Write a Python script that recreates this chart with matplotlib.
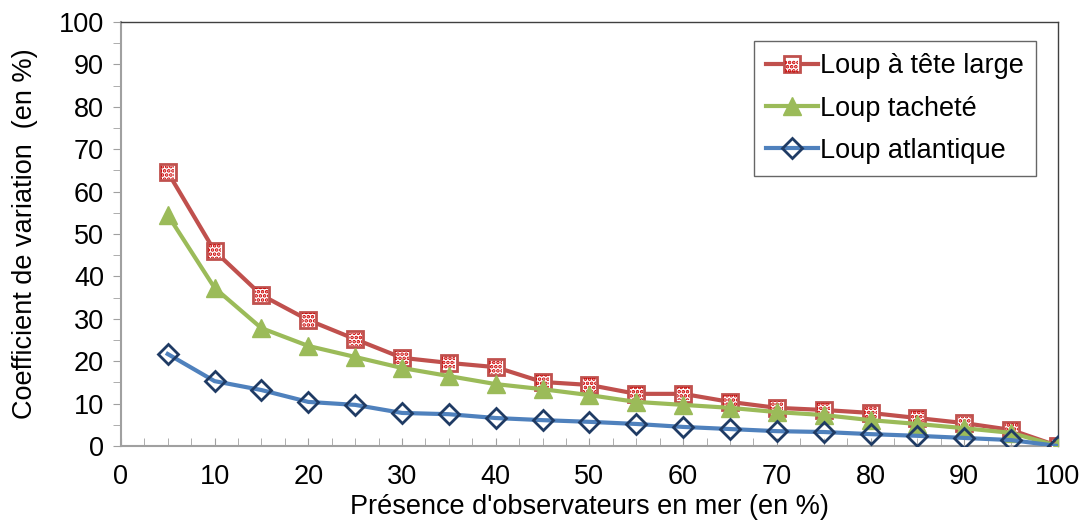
import matplotlib
matplotlib.use('Agg')
from matplotlib import pyplot as plt
from matplotlib.ticker import MultipleLocator
from matplotlib.legend_handler import HandlerTuple

plt.rcParams['font.family'] = ['Liberation Sans', 'DejaVu Sans']
plt.rcParams['hatch.linewidth'] = 1.8

# Data
presence = [5, 10, 15, 20, 25, 30, 35, 40, 45, 50, 55, 60, 65, 70, 75, 80, 85, 90, 95, 100]
tete_large = [64.6, 46.0, 35.6, 29.7, 25.2, 20.8, 19.6, 18.6, 15.1, 14.4,
              12.3, 12.3, 10.4, 9.0, 8.5, 7.8, 6.6, 5.4, 3.8, 0.0]
tachete = [54.5, 37.3, 27.8, 23.6, 21.0, 18.4, 16.5, 14.6, 13.4, 12.0,
           10.4, 9.7, 9.0, 8.0, 7.3, 6.1, 5.2, 4.2, 3.1, 0.0]
atlantique = [21.7, 15.3, 13.2, 10.4, 9.7, 7.8, 7.5, 6.6, 6.1, 5.7,
              5.2, 4.5, 4.0, 3.5, 3.3, 2.8, 2.4, 1.9, 1.4, 0.0]

red = '#c0504d'
green = '#9bbb59'
blue = '#4f81bd'

fig = plt.figure(figsize=(10.79, 5.2), dpi=100)
ax = fig.add_axes([0.112, 0.1423, 0.8685, 0.8154])

# Loup a tete large: square with dotted (hatched) face
l1, = ax.plot(presence, tete_large, c=red, lw=3, marker='s', ms=12,
              mfc='white', mec=red, mew=2, zorder=3)
s1 = ax.scatter(presence, tete_large, marker='s', s=90, facecolor='none',
                edgecolor='#cc0000', hatch='....', lw=0, zorder=4)

# Loup tachete
l2, = ax.plot(presence, tachete, c=green, lw=3, marker='^', ms=13,
              mfc=green, mec=green, zorder=5)

# Loup atlantique
l3, = ax.plot(presence, atlantique, c=blue, lw=3, marker='D', ms=10,
              mfc='none', mec='#1f3b64', mew=2, zorder=6)

ax.set_xlim(0, 100)
ax.set_ylim(0, 100)
ax.xaxis.set_major_locator(MultipleLocator(10))
ax.xaxis.set_minor_locator(MultipleLocator(2.5))
ax.yaxis.set_major_locator(MultipleLocator(10))
ax.yaxis.set_minor_locator(MultipleLocator(5))

ax.tick_params(axis='x', which='both', direction='in', length=6, color='#a0a0a0',
               labelsize=19.5, pad=13)
ax.tick_params(axis='y', which='both', direction='out', length=6, color='#a0a0a0',
               labelsize=19.5, pad=6)

for side in ['left', 'bottom']:
    ax.spines[side].set_color('#a0a0a0')
    ax.spines[side].set_linewidth(1.5)
for side in ['top', 'right']:
    ax.spines[side].set_color('#404040')
    ax.spines[side].set_linewidth(1)

ax.set_xlabel("Présence d'observateurs en mer (en %)", fontsize=19.5, labelpad=3)
ax.set_ylabel("Coefficient de variation  (en %)", fontsize=19.5, labelpad=15)

leg = ax.legend([(l1, s1), l2, l3], ['Loup à tête large', 'Loup tacheté', 'Loup atlantique'],
                handler_map={tuple: HandlerTuple(ndivide=1, pad=0)},
                loc='upper right', bbox_to_anchor=(0.977, 0.955), fontsize=19.5,
                frameon=True, fancybox=False, handlelength=1.9, handletextpad=0.1,
                borderpad=0.45, labelspacing=0.6, borderaxespad=0)
leg.get_frame().set_edgecolor('#404040')
leg.get_frame().set_linewidth(1)

fig.savefig('out.png', dpi=100)
